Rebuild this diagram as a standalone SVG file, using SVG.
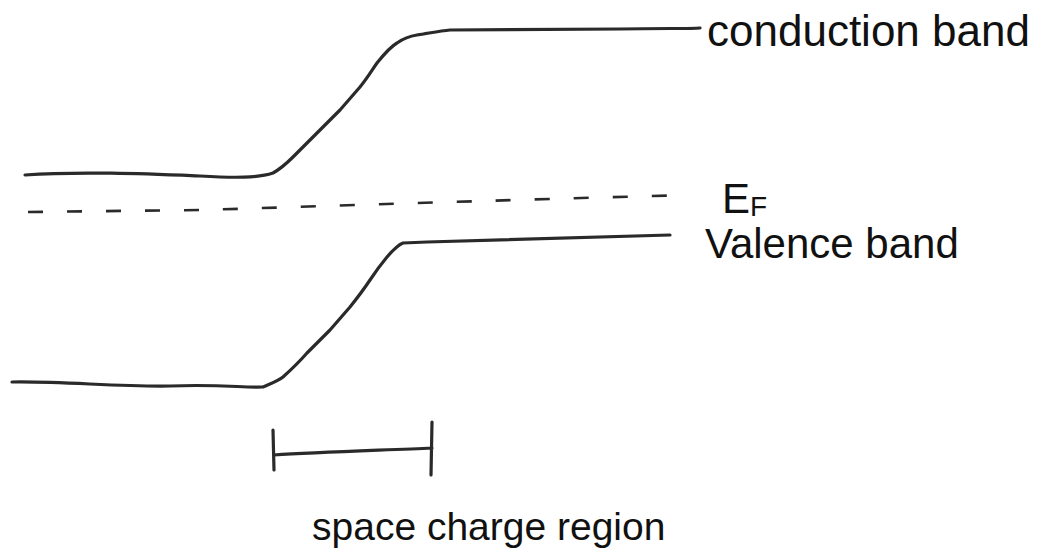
<svg xmlns="http://www.w3.org/2000/svg" width="1045" height="556" viewBox="0 0 1045 556">
<style>
.band{fill:none;stroke:#2a2a2a;stroke-width:3.2;stroke-linecap:round;stroke-linejoin:round}
.ef{fill:none;stroke:#2a2a2a;stroke-width:2.6;stroke-dasharray:15 24}
.lbl{font-family:"Liberation Sans",Arial,sans-serif;fill:#111}
</style>
<rect width="1045" height="556" fill="#fff"/>
<g id="connectors">
<g id="conduction-band-line"><path class="band" d="M25,175 C80,171 150,174 200,176 C235,178 258,178 273,173 C282,168 288,162 293,157 L317,133 L340,110 L360,87 C368,77 372,70 377,63 C385,53 390,47 397,43 C404,38 410,36 417,35 C430,33 440,31 450,30 C520,30 580,29 620,29 C660,28 690,29 700,28"/></g>
<g id="fermi-level-line"><path class="ef" d="M28,212 L200,210 C300,207 500,200 690,195"/></g>
<g id="valence-band-line"><path class="band" d="M12,382 C60,381 120,387 170,386 C220,384 245,388 263,387 C272,383 278,381 283,377 C293,368 300,361 307,353 L330,330 L350,307 C358,297 364,289 370,280 C376,271 382,263 387,257 C393,250 398,245 403,243 L427,242 C500,240 580,238 670,235"/></g>
<g id="space-charge-bracket"><path class="band" stroke-width="2.4" d="M273,430 L274,470 M432,422 L431,475 M274,455 C320,452 390,450 432,448"/></g>
</g>
<g id="conduction-band-label"><text class="lbl" x="707" y="46" font-size="44">conduction band</text></g>
<g id="ef-label"><text class="lbl" x="722" y="213" font-size="42">E<tspan font-size="28" dy="3">F</tspan></text></g>
<g id="valence-band-label"><text class="lbl" x="705" y="258" font-size="42">Valence band</text></g>
<g id="space-charge-label"><text class="lbl" x="312" y="540" font-size="39">space charge region</text></g>
</svg>
